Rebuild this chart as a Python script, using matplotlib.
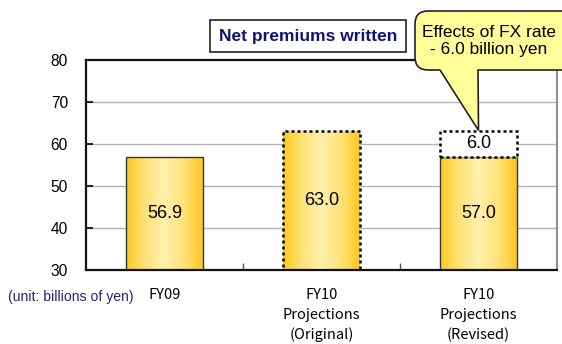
import numpy as np
import matplotlib
matplotlib.use('Agg')
import matplotlib.pyplot as plt
from matplotlib.path import Path
from matplotlib.patches import PathPatch
from matplotlib.colors import LinearSegmentedColormap
from matplotlib.transforms import IdentityTransform

# Net premiums written (billions of yen)
categories = ['FY09', 'FY10\nProjections\n(Original)', 'FY10\nProjections\n(Revised)']
values = [56.9, 63.0, 57.0]
fx_effect = 6.0
value_labels = ['56.9', '63.0', '57.0']
fx_label = '6.0'
y_ticks = [30, 40, 50, 60, 70, 80]

W, H = 562, 344
fig = plt.figure(figsize=(W / 100, H / 100), dpi=100)
ax = fig.add_axes([86 / W, 1 - 270 / H, (557 - 86) / W, (270 - 60) / H])

ax.set_xlim(-0.5, 2.5)
ax.set_ylim(30, 80)
ax.set_yticks(y_ticks)
ax.set_yticklabels([str(t) for t in y_ticks], fontsize=11.2, family='Liberation Sans')
ax.tick_params(axis='y', direction='in', length=5, width=1.2, pad=13)
ax.set_xticks([0.5, 1.5], minor=True)
ax.tick_params(axis='x', which='minor', direction='in', length=5, width=1, color='#555555')
ax.set_xticks(range(len(categories)))
ax.set_xticklabels(categories, fontsize=10.5, family=['Noto Sans CJK JP', 'DejaVu Sans'],
                   linespacing=1.5)
ax.tick_params(axis='x', which='major', length=0, pad=13)

for y in y_ticks[1:-1]:
    ax.axhline(y, color='#b4b4b4', lw=1, zorder=0)

for side in ['left', 'bottom', 'top']:
    ax.spines[side].set_linewidth(1.6)
    ax.spines[side].set_color('#111111')
ax.spines['right'].set_color('#777777')
ax.spines['right'].set_linewidth(1.2)

# horizontal gold gradient for bar faces
gold = LinearSegmentedColormap.from_list(
    'gold', ['#ffc81e', '#ffe27a', '#fff0ab', '#ffe27a', '#ffc81e'])
grad = np.linspace(0, 1, 256).reshape(1, -1)
bar_w = 0.49

bars = ax.bar(range(len(values)), [v - 30 for v in values], bottom=30, width=bar_w,
              facecolor='none', edgecolor='none', zorder=2)
edge_styles = [('#333333', '-', 1.0), ('#000000', (0, (1.2, 1.2)), 1.8), ('#333333', '-', 1.0)]
for i, b in enumerate(bars):
    x0 = b.get_x()
    im = ax.imshow(grad, cmap=gold, aspect='auto', extent=[x0, x0 + bar_w, 30, values[i]],
                   zorder=2, interpolation='bilinear')
    im.set_clip_path(b)
    col, ls, lw = edge_styles[i]
    ax.bar(i, values[i] - 30, bottom=30, width=bar_w, facecolor='none', edgecolor=col,
           linestyle=ls, linewidth=lw, zorder=3)
    ax.text(i, (30 + values[i]) / 2, value_labels[i], ha='center', va='center',
            fontsize=13, family='Liberation Sans', zorder=4)

# FX effect block on top of the revised bar
ax.bar(2, fx_effect, bottom=values[2], width=bar_w, facecolor='white', edgecolor='black',
       linestyle=(0, (1.2, 1.2)), linewidth=1.8, zorder=3)
ax.text(2, values[2] + fx_effect / 2, fx_label, ha='center', va='center',
        fontsize=13, family='Liberation Sans', zorder=4)

# title box
fig.text(308 / W, 1 - 36 / H, 'Net premiums written', ha='center', va='center',
         fontsize=12.5, fontweight='bold', color='#14146e', family='Liberation Sans',
         bbox=dict(boxstyle='square,pad=0.5', facecolor='white', edgecolor='#222222', lw=1.2))

# unit note
fig.text(8 / W, 1 - 297 / H, '(unit: billions of yen)', ha='left', va='center',
         fontsize=10.1, color='#23237a', family='Liberation Sans')

# speech bubble pointing at the FX block
fig.canvas.draw()
tip = ax.transData.transform((2, values[2] + fx_effect))


def px(x, y):
    return (x, H - y)


bx0, bx1, by0, by1, r = 415, 575, 11, 70, 13
pa, pb = 440, 478
verts = [px(bx0 + r, by0), px(bx1 - r, by0), px(bx1, by0), px(bx1, by0 + r),
         px(bx1, by1 - r), px(bx1, by1), px(bx1 - r, by1),
         px(pb, by1), (tip[0], tip[1] + 1), px(pa, by1),
         px(bx0 + r, by1), px(bx0, by1), px(bx0, by1 - r),
         px(bx0, by0 + r), px(bx0, by0), px(bx0 + r, by0), px(bx0 + r, by0)]
codes = [Path.MOVETO, Path.LINETO, Path.CURVE3, Path.CURVE3,
         Path.LINETO, Path.CURVE3, Path.CURVE3,
         Path.LINETO, Path.LINETO, Path.LINETO,
         Path.LINETO, Path.CURVE3, Path.CURVE3,
         Path.LINETO, Path.CURVE3, Path.CURVE3, Path.CLOSEPOLY]
bubble = PathPatch(Path(verts, codes), facecolor='#ffff99', edgecolor='#222222', lw=1.2,
                   transform=IdentityTransform(), zorder=10)
fig.patches.append(bubble)
fig.text(489 / W, 1 - 41 / H, 'Effects of FX rate\n- 6.0 billion yen', ha='center',
         va='center', fontsize=12.5, family='Liberation Sans', linespacing=1.15, zorder=11)

fig.savefig('out.png', dpi=100)
